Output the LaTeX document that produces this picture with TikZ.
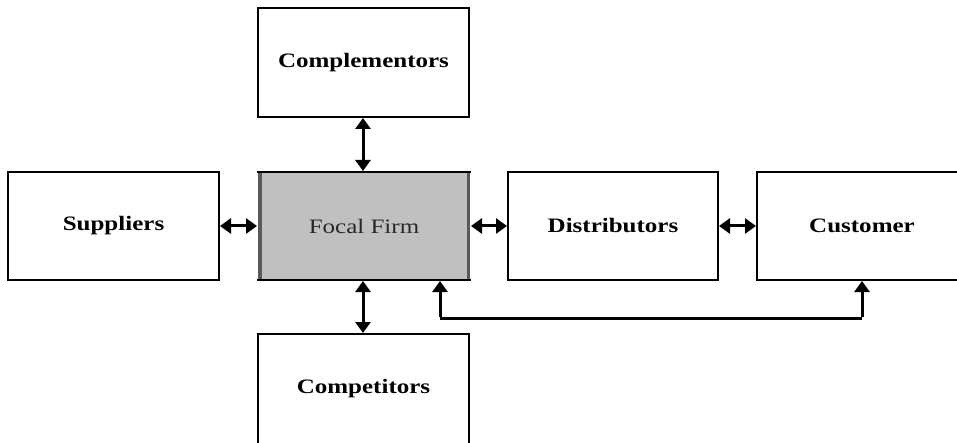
\documentclass[tikz,border=0pt]{standalone}
\usepackage{fontspec}
\setmainfont{Liberation Serif}
\newfontfamily\labelfont[FakeStretch=1.22]{Liberation Serif}
\usetikzlibrary{arrows.meta}
\definecolor{focalfill}{RGB}{192,192,192}
\definecolor{focalside}{RGB}{90,90,90}
\definecolor{focaltext}{RGB}{40,40,40}
\tikzset{
  x=1pt, y=-1pt,
  actor/.style={draw=black, line width=2pt, fill=white},
  lbl/.style={font=\labelfont\fontsize{20.5}{22}\selectfont\bfseries, text=black},
  tip/.tip={Triangle[length=11pt,width=15pt]},
  link/.style={line width=3pt, tip-tip},
  uplink/.style={line width=3pt, -tip}
}
\begin{document}
\begin{tikzpicture}
\useasboundingbox (0,0) rectangle (957,443);
\clip (0,0) rectangle (957,443);
\fill[white] (0,0) rectangle (957,443);

% boxes
\draw[actor] (258,8) rectangle (469,117);
\draw[actor] (8,172) rectangle (219,280);
\draw[actor] (508,172) rectangle (718,280);
\draw[actor] (757,172) rectangle (967,280);
\draw[actor] (258,334) rectangle (469,450);
% focal firm: grey fill, black top and bottom, darker grey sides
\fill[focalfill] (258,172) rectangle (470,280);
\draw[black, line width=2pt] (257,172) -- (471,172) (257,280) -- (471,280);
\draw[focalside, line width=3.5pt] (259.75,173) -- (259.75,279) (468.25,173) -- (468.25,279);

% labels
\node[lbl] (comp) at (363.5,62.5) {Complementors};
\node[lbl] (supp) at (113.5,226) {Suppliers};
\node[font=\labelfont\fontsize{20.5}{22}\selectfont, text=focaltext] (focal) at (364,226) {Focal Firm};
\node[lbl] (dist) at (613,226) {Distributors};
\node[lbl] (cust) at (862,226) {Customer};
\node[lbl] (rival) at (363.5,388.5) {Competitors};

% connector end points on the box edges
\coordinate (compS) at (363,118);
\coordinate (focalN) at (363,171);
\coordinate (focalS) at (363,281);
\coordinate (rivalN) at (363,333);
\coordinate (suppE) at (220,226);
\coordinate (focalW) at (257,226);
\coordinate (focalE) at (471,226);
\coordinate (distW) at (507,226);
\coordinate (distE) at (719,226);
\coordinate (custW) at (756,226);
\coordinate (custS) at (862,281);
\coordinate (focalSE) at (440,281);
\coordinate (loopL) at (440,318);
\coordinate (loopR) at (862,318);

% connectors
\draw[link] (compS) -- (focalN);
\draw[link] (focalS) -- (rivalN);
\draw[link] (suppE) -- (focalW);
\draw[link] (focalE) -- (distW);
\draw[link] (distE) -- (custW);
\draw[line width=3pt] (loopL) -- (loopR);
\draw[uplink] ([yshift=1.5pt]loopL) -- (focalSE);
\draw[uplink] ([yshift=1.5pt]loopR) -- (custS);
\end{tikzpicture}
\end{document}
